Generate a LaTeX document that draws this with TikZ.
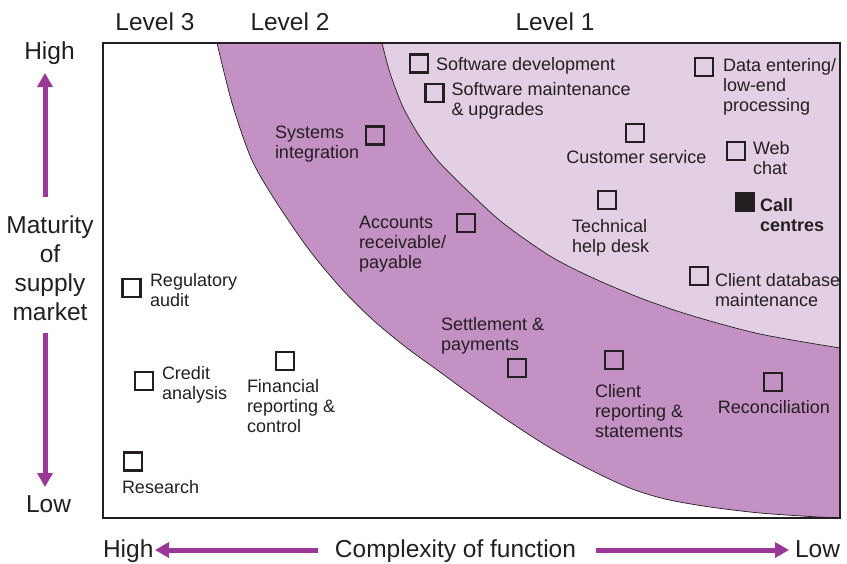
\documentclass[tikz,border=0pt]{standalone}
\usepackage{fontspec}
\setmainfont{Liberation Sans}
\usetikzlibrary{arrows.meta}
\definecolor{ink}{HTML}{231F20}
\definecolor{darkp}{RGB}{195,145,195}
\definecolor{lightp}{RGB}{227,207,228}
\definecolor{arrowp}{RGB}{155,55,150}
\begin{document}
\begin{tikzpicture}[x=1pt,y=-1pt,
  lbl/.style={inner sep=0pt, outer sep=0pt, text=ink, font=\fontsize{18}{20}\selectfont, align=left, anchor=north west},
  big/.style={inner sep=0pt, outer sep=0pt, text=ink, font=\fontsize{24.5}{29}\selectfont},
  sq/.style={draw=ink, line width=2.4pt, minimum size=18pt, inner sep=0pt, outer sep=0pt},
  fsq/.style={sq, fill=ink},
  axarrow/.style={draw=arrowp, line width=5pt, -{Triangle[width=15pt,length=14pt]}},
  curve/.style={draw=ink, line width=0.7pt},
]
\useasboundingbox (0,0) rectangle (847,563);
\def\outerpts{(217,43) (232,103) (251,158) (273,197) (307,247) (340,287) (373,320) (407,348) (440,372) (470,394) (510,422) (547,446) (583,466) (627,487) (665,499) (710,507) (760,513) (810,516.5) (840,518)}
\def\innerpts{(382,43) (390,73) (403,107) (420,137) (439,162) (470,193) (503,223) (550,256) (593,278) (643,299) (693,316) (760,334) (840,348)}
% regions
\fill[darkp] plot[smooth] coordinates {\outerpts} -- (840,43) -- cycle;
\fill[lightp] plot[smooth] coordinates {\innerpts} -- (840,43) -- cycle;
\draw[curve] plot[smooth] coordinates {\outerpts};
\draw[curve] plot[smooth] coordinates {\innerpts};
\draw[draw=ink, line width=1.2pt] (103,43) rectangle (840,518);

% level labels
\node[big, anchor=base] (lv3) at (155,30) {Level 3};
\node[big, anchor=base] (lv2) at (290,30) {Level 2};
\node[big, anchor=base] (lv1) at (555,30) {Level 1};

% vertical axis
\node[big, anchor=base] (vhigh) at (49.5,59) {High};
\node[big, anchor=north, align=center] (vlab) at (50,215.5) {Maturity\\of\\supply\\market};
\node[big, anchor=base] (vlow) at (48.5,512) {Low};
\coordinate (vu1) at (45,197);
\coordinate (vu2) at (45,73);
\coordinate (vd1) at (45,333);
\coordinate (vd2) at (45,487);
\draw[axarrow] (vu1) -- (vu2);
\draw[axarrow] (vd1) -- (vd2);

% horizontal axis
\node[big, anchor=base west] (hhigh) at (103,557) {High};
\node[big, anchor=base] (hlab) at (455.5,557) {Complexity of function};
\node[big, anchor=base east] (hlow) at (840,557) {Low};
\coordinate (hl1) at (318,550);
\coordinate (hl2) at (155,550);
\coordinate (hr1) at (596,550);
\coordinate (hr2) at (789,550);
\draw[axarrow] (hl1) -- (hl2);
\draw[axarrow] (hr1) -- (hr2);

% squares
\node[sq] (sq-swdev) at (419,63.5) {};
\node[sq] (sq-swmaint) at (434.5,93) {};
\node[sq] (sq-data) at (704,67) {};
\node[sq] (sq-sys) at (375,135.5) {};
\node[sq] (sq-cust) at (635,133) {};
\node[sq] (sq-web) at (736,151) {};
\node[sq] (sq-tech) at (607,200) {};
\node[fsq] (sq-call) at (745,202) {};
\node[sq] (sq-acc) at (466,223) {};
\node[sq] (sq-cdb) at (699,276) {};
\node[sq] (sq-reg) at (131.5,288) {};
\node[sq] (sq-set) at (517,368) {};
\node[sq] (sq-crep) at (614,360) {};
\node[sq] (sq-rec) at (773,382) {};
\node[sq] (sq-cred) at (144,381) {};
\node[sq] (sq-fin) at (285,361) {};
\node[sq] (sq-res) at (133,461.5) {};

% labels
\node[lbl] (t-swdev) at (436,57.7) {Software development};
\node[lbl] (t-swmaint) at (451.5,82) {Software maintenance\\\& upgrades};
\node[lbl] (t-data) at (723,58) {Data entering/\\low-end\\processing};
\node[lbl] (t-sys) at (275,126) {Systems\\integration};
\node[lbl, anchor=base] (t-cust) at (636.5,163) {Customer service};
\node[lbl] (t-web) at (753,141) {Web\\chat};
\node[lbl] (t-tech) at (572,219) {Technical\\help desk};
\node[lbl, font=\fontsize{18}{20}\selectfont\bfseries] (t-call) at (760,198) {Call\\centres};
\node[lbl] (t-acc) at (359,216) {Accounts\\receivable/\\payable};
\node[lbl] (t-cdb) at (715,273) {Client database\\maintenance};
\node[lbl] (t-reg) at (150,273) {Regulatory\\audit};
\node[lbl] (t-set) at (441,317) {Settlement \&\\payments};
\node[lbl] (t-crep) at (595,384) {Client\\reporting \&\\statements};
\node[lbl, anchor=base] (t-rec) at (774,413) {Reconciliation};
\node[lbl] (t-cred) at (162,366) {Credit\\analysis};
\node[lbl] (t-fin) at (247,379) {Financial\\reporting \&\\control};
\node[lbl, anchor=base west] (t-res) at (122,493) {Research};
\end{tikzpicture}
\end{document}
